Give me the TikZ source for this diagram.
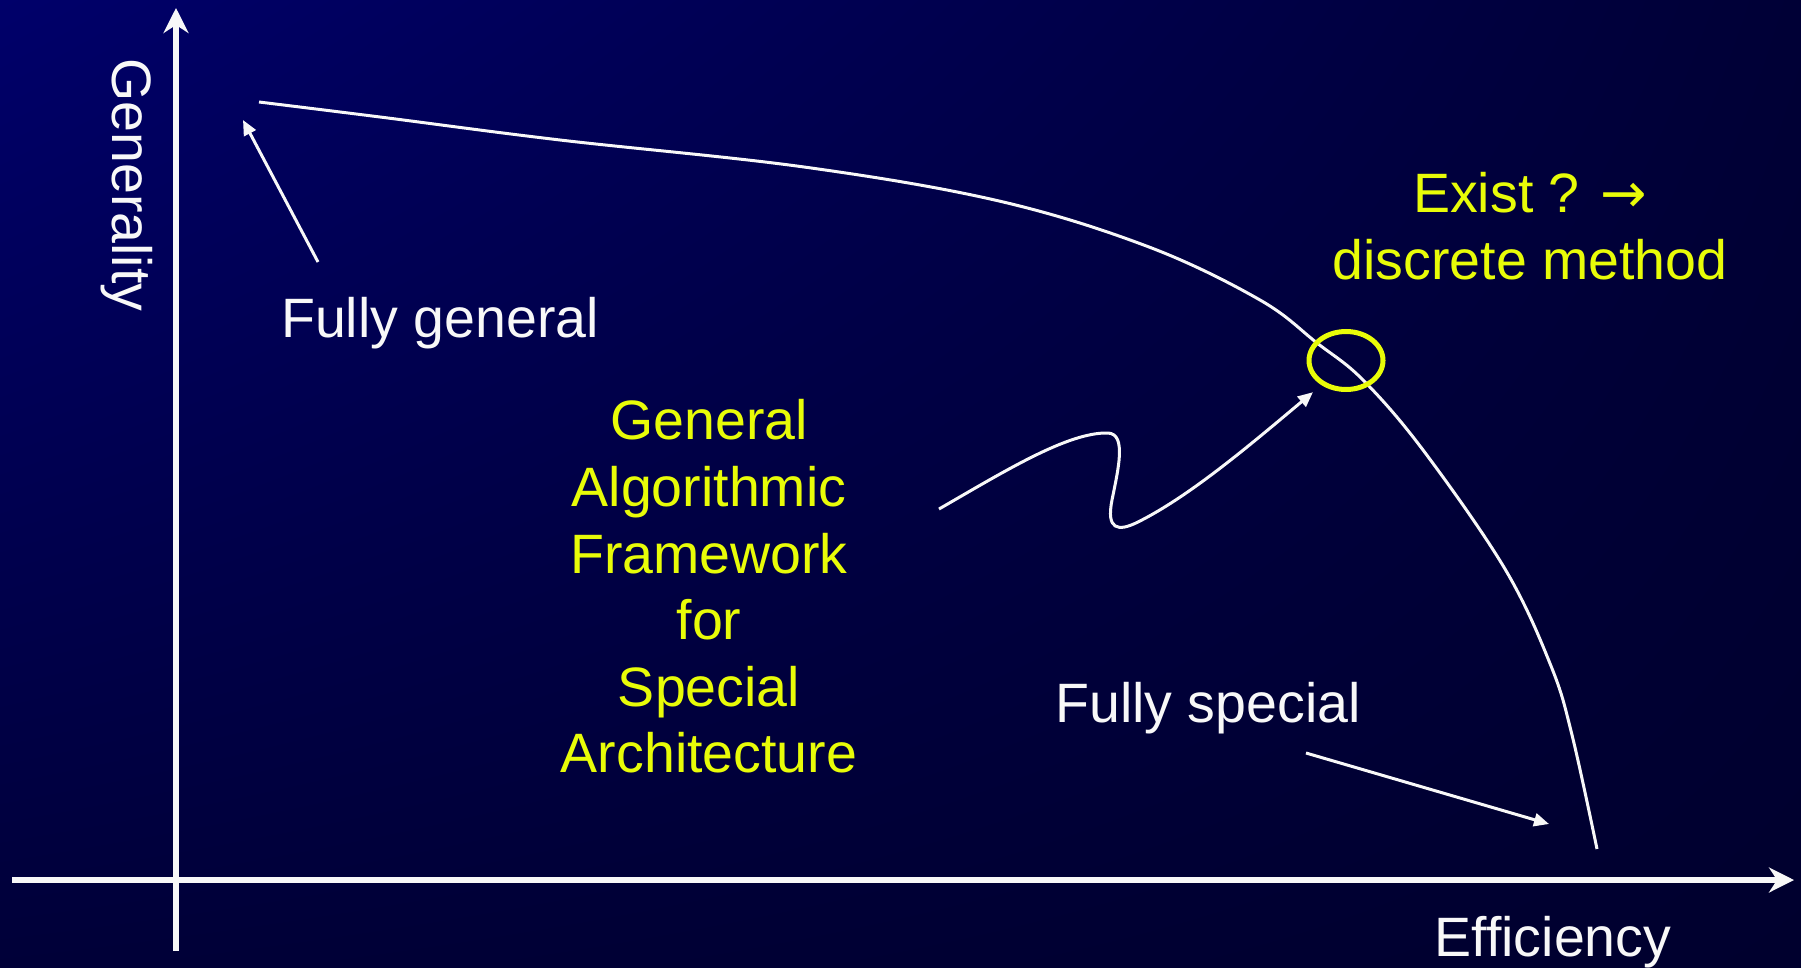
\documentclass[tikz,border=0pt]{standalone}
\usepackage{fontspec}
\setmainfont{Liberation Sans}
\newfontfamily\symfont{DejaVu Sans}
\usetikzlibrary{arrows.meta,shapes.geometric,shadings}
\definecolor{yel}{RGB}{232,252,8}
\definecolor{wht}{RGB}{248,248,248}
\definecolor{bgul}{RGB}{0,0,106}
\definecolor{bgur}{RGB}{0,0,54}
\definecolor{bgll}{RGB}{0,0,56}
\definecolor{bglr}{RGB}{0,0,46}
\tikzset{
  lbl/.style={font=\fontsize{55.5}{66.6}\selectfont, text=wht, inner sep=0pt, outer sep=0pt},
  ylbl/.style={lbl, text=yel, align=center},
  axis/.style={draw=wht, line width=6pt, -{Stealth[length=25pt,width=25pt,inset=8pt]}},
  curve/.style={draw=wht, line width=3pt},
  pointer/.style={draw=wht, line width=3pt, -{Triangle[length=15pt,width=13pt]}},
}
\begin{document}
\begin{tikzpicture}[x=1pt,y=-1pt]
\shade[upper left=bgul, upper right=bgur, lower left=bgll, lower right=bglr] (0,0) rectangle (1801,968);
\useasboundingbox (0,0) rectangle (1801,968);

% axes
\coordinate (yfoot) at (176,951);
\coordinate (ytip) at (176,8);
\coordinate (xfoot) at (12,880);
\coordinate (xtip) at (1794,880);
\draw[axis] (yfoot) -- (ytip);
\draw[axis] (xfoot) -- (xtip);

% axis labels
\node[lbl, rotate=-90] (ylab) at (126.5,185) {Generality};
\node[lbl, anchor=base] (xlab) at (1553,956) {Efficiency};

% trade-off curve
\draw[curve] plot[smooth, tension=0.6] coordinates {
  (259,102) (380,117) (560,140) (804,167) (999,201) (1149,247) (1260,300)
  (1317,343) (1363,380) (1423,450) (1505,569) (1551,666) (1572,735) (1597,849)};

% circle marking the sweet spot
\node[draw=yel, line width=5pt, ellipse, minimum width=74pt, minimum height=58pt, inner sep=0pt] (spot) at (1346,360.5) {};

% labels
\node[lbl, anchor=base] (fgen) at (440,337) {Fully general};
\node[lbl, anchor=base] (fspec) at (1208,722) {Fully special};
\node[ylbl] (gaf) at (709,586.5) {General\\Algorithmic\\Framework\\for\\Special\\Architecture};
\node[ylbl] (exist) at (1530,226) {Exist ? {\symfont →}\\discrete method};

% pointers
\coordinate (fgtail) at (318,262);
\coordinate (fghead) at (243,120);
\draw[pointer] (fgtail) -- (fghead);

\coordinate (fstail) at (1306,753);
\coordinate (fshead) at (1549,824);
\draw[pointer] (fstail) -- (fshead);

\coordinate (wtail) at (939,509);
\draw[pointer, shorten >=11pt] (wtail) .. controls (1005,471) and (1068,432) .. (1108,433)
  .. controls (1127,434) and (1118,470) .. (1112,500)
  .. controls (1106,530) and (1118,532) .. (1138,522)
  .. controls (1190,496) and (1250,445) .. (spot.225);
\end{tikzpicture}
\end{document}
